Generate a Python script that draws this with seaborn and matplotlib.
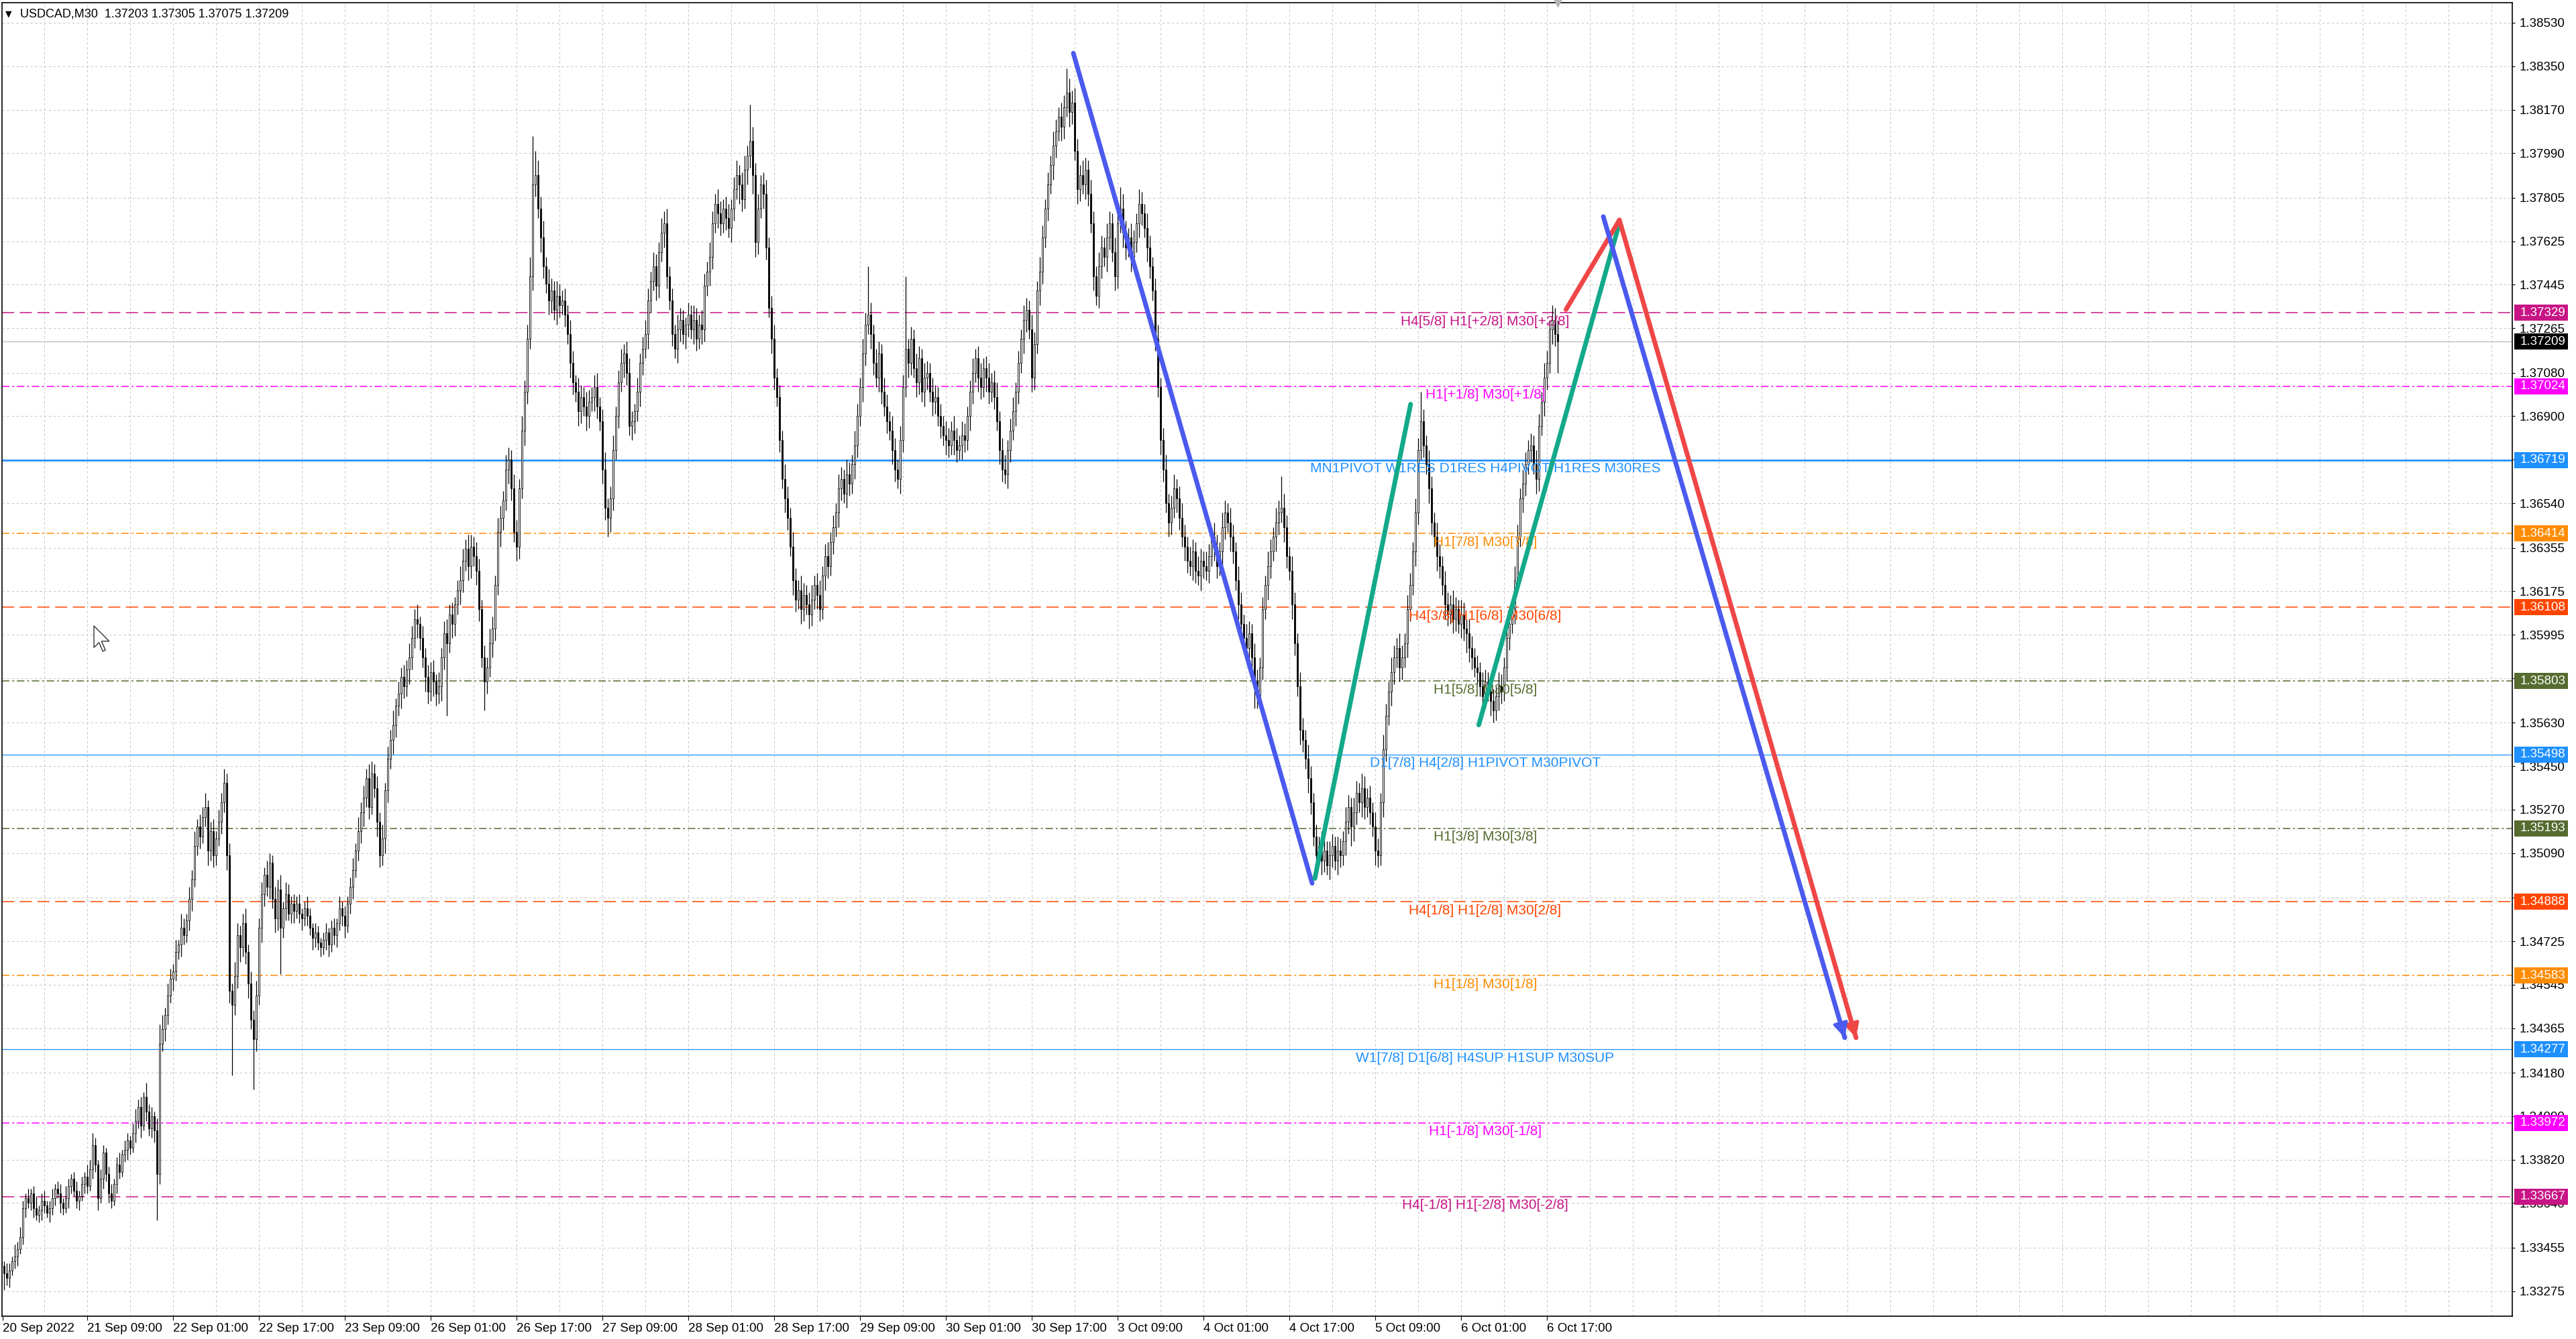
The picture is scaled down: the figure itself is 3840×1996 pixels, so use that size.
import numpy as np
import pandas as pd
import matplotlib
matplotlib.use("Agg")
import matplotlib.pyplot as plt
import seaborn as sns
from matplotlib.patches import Rectangle, Polygon
from matplotlib.transforms import blended_transform_factory

sns.set_theme(style="white")
plt.rcParams['font.family'] = ['Liberation Sans', 'DejaVu Sans']
plt.rcParams['lines.scale_dashes'] = False

# ---------------- data ----------------
symbol_title = "USDCAD,M30  1.37203 1.37305 1.37075 1.37209"
first_open_pips = 340
# M30 closes, in pips above 1.3000 (one value per bar)
close_pips = [
    338, 335, 333, 336, 340, 342, 345, 350, 362, 366,
    364, 368, 362, 359, 361, 365, 363, 360, 362, 366,
    370, 368, 364, 362, 366, 371, 374, 369, 365, 367,
    372, 375, 371, 378, 388, 380, 366, 374, 385, 376,
    368, 365, 372, 380, 377, 384, 386, 390, 387, 393,
    398, 404, 396, 408, 402, 395, 400, 394, 376, 430,
    436, 442, 450, 457, 460, 468, 471, 478, 475, 481,
    490, 498, 512, 520, 516, 524, 528, 510, 518, 508,
    515, 522, 530, 538, 508, 452, 446, 458, 475, 470,
    480, 468, 455, 440, 432, 450, 478, 492, 500, 495,
    505, 490, 482, 494, 478, 486, 492, 484, 488, 485,
    488, 484, 482, 486, 483, 478, 474, 476, 472, 470,
    473, 476, 471, 478, 475, 480, 486, 483, 479, 488,
    495, 502, 510, 518, 526, 532, 540, 528, 542, 536,
    522, 508, 515, 535, 548, 556, 562, 570, 575, 582,
    578, 585, 590, 598, 606, 604, 598, 590, 582, 576,
    584, 580, 575, 578, 590, 600, 596, 608, 604, 612,
    618, 622, 630, 635, 628, 636, 632, 626, 610, 590,
    580, 586, 596, 602, 620, 642, 648, 655, 668, 672,
    660, 642, 636, 660, 684, 700, 722, 748, 786, 790,
    776, 764, 752, 745, 738, 742, 734, 740, 736, 738,
    732, 724, 712, 704, 700, 692, 698, 694, 690, 696,
    698, 702, 694, 688, 668, 652, 648, 656, 676, 690,
    704, 712, 716, 708, 686, 688, 692, 700, 712, 718,
    724, 738, 746, 752, 744, 758, 766, 770, 748, 738,
    724, 718, 726, 730, 724, 728, 732, 726, 730, 722,
    728, 726, 744, 750, 756, 770, 778, 774, 770, 776,
    772, 768, 776, 784, 790, 786, 780, 792, 798, 804,
    790, 762, 776, 786, 782, 760, 735, 722, 706, 698,
    680, 664, 656, 648, 636, 622, 614, 618, 610, 616,
    612, 608, 614, 620, 616, 610, 624, 632, 628, 638,
    644, 650, 660, 664, 658, 666, 662, 670, 678, 690,
    702, 716, 728, 732, 724, 712, 706, 716, 700, 694,
    688, 684, 676, 668, 664, 680, 702, 718, 712, 722,
    710, 704, 714, 700, 706, 708, 700, 696, 698, 690,
    686, 682, 680, 678, 684, 680, 676, 678, 682, 680,
    690, 700, 708, 714, 706, 702, 710, 706, 700, 704,
    698, 688, 676, 668, 666, 676, 684, 692, 700, 712,
    722, 730, 734, 726, 706, 720, 742, 750, 764, 776,
    786, 794, 802, 808, 814, 810, 818, 824, 816, 820,
    800, 784, 790, 786, 792, 782, 770, 748, 740, 752,
    760, 756, 764, 770, 758, 748, 770, 776, 766, 760,
    764, 756, 762, 770, 778, 774, 768, 760, 752, 742,
    722, 702, 680, 668, 654, 646, 652, 660, 656, 648,
    640, 636, 630, 628, 634, 626, 624, 630, 628, 626,
    632, 640, 636, 628, 634, 644, 650, 646, 640, 634,
    622, 612, 604, 598, 594, 600, 590, 580, 574, 586,
    610, 620, 628, 634, 640, 646, 650, 652, 644, 632,
    626, 612, 596, 578, 560, 556, 548, 540, 530, 516,
    508, 512, 506, 510, 504, 508, 512, 506, 510, 508,
    514, 522, 528, 520, 526, 534, 530, 536, 528, 532,
    526, 520, 510, 508, 530, 552, 566, 576, 584, 590,
    594, 586, 590, 596, 610, 620, 634, 650, 676, 688,
    678, 670, 660, 646, 640, 632, 628, 620, 612, 608,
    612, 606, 610, 604, 608, 602, 600, 594, 590, 586,
    584, 578, 574, 580, 576, 572, 568, 574, 578, 576,
    586, 598, 604, 610, 622, 640, 656, 662, 670, 676,
    678, 670, 664, 686, 696, 706, 712, 726, 730, 724, 721,
]
# upper / lower shadows, in pips
up_wick = [
    3, 2, 4, 3, 2, 5, 3, 4, 3, 2,   4, 2, 3, 5, 2, 3, 4, 2, 3, 4,
    2, 3, 4, 2, 5, 3, 2, 3, 4, 2,   3, 2, 5, 4, 5, 3, 2, 4, 3, 2,
    3, 4, 2, 3, 5, 2, 4, 3, 2, 4,   5, 3, 4, 2, 6, 3, 4, 2, 5, 8,
    6, 3, 5, 4, 3, 5, 2, 6, 4, 3,   5, 4, 6, 3, 5, 4, 6, 3, 4, 5,
    3, 5, 4, 6, 4, 5, 3, 6, 5, 4,   4, 6, 3, 5, 4, 6, 4, 5, 3, 6,
    4, 3, 5, 4, 6, 3, 5, 4, 3, 4,   3, 4, 2, 3, 5, 3, 2, 4, 3, 2,
    3, 4, 2, 3, 4, 2, 5, 3, 4, 3,   4, 5, 3, 6, 4, 5, 4, 6, 5, 4,
    5, 4, 6, 3, 5, 4, 6, 3, 5, 4,   5, 4, 6, 5, 4, 6, 3, 5, 4, 5,
    4, 5, 3, 6, 4, 5, 6, 4, 5, 3,   4, 6, 5, 4, 6, 5, 4, 6, 5, 4,
    5, 4, 6, 5, 4, 6, 5, 4, 6, 5,   4, 6, 5, 4, 6, 5, 6, 8, 20, 10,
    6, 5, 7, 4, 6, 5, 4, 6, 5, 4,   5, 4, 6, 5, 3, 6, 5, 4, 6, 5,
    4, 5, 6, 4, 5, 7, 4, 5, 6, 4,   5, 6, 4, 5, 6, 4, 3, 6, 4, 5,
    6, 5, 4, 6, 5, 4, 6, 5, 6, 4,   5, 4, 6, 5, 4, 3, 5, 4, 6, 5,
    4, 6, 5, 4, 6, 5, 4, 6, 5, 4,   5, 6, 4, 5, 6, 4, 5, 6, 4, 15,
    6, 5, 6, 4, 5, 6, 4, 5, 6, 4,   5, 4, 6, 5, 4, 6, 5, 4, 6, 5,
    4, 5, 6, 4, 5, 6, 4, 5, 6, 4,   5, 4, 6, 5, 4, 6, 5, 4, 6, 5,
    4, 6, 5, 20, 5, 4, 6, 5, 4, 6,  5, 4, 6, 5, 4, 6, 5, 30, 4, 5,
    4, 6, 5, 4, 6, 5, 4, 6, 5, 4,   5, 4, 6, 5, 4, 6, 5, 4, 6, 5,
    4, 5, 6, 4, 5, 6, 4, 5, 6, 4,   5, 6, 4, 5, 6, 4, 5, 6, 4, 5,
    4, 6, 5, 4, 6, 5, 4, 6, 5, 4,   5, 4, 6, 5, 4, 6, 5, 10, 6, 5,
    6, 5, 4, 6, 5, 4, 6, 5, 4, 6,   5, 4, 6, 5, 4, 6, 5, 9, 6, 5,
    4, 6, 5, 4, 6, 5, 4, 6, 5, 4,   5, 6, 4, 5, 6, 4, 5, 6, 4, 5,
    6, 5, 4, 6, 5, 4, 6, 5, 4, 6,   5, 4, 6, 5, 4, 6, 5, 4, 6, 5,
    4, 6, 5, 4, 6, 5, 4, 6, 5, 4,   5, 4, 6, 5, 4, 6, 5, 13, 6, 5,
    4, 6, 5, 4, 6, 5, 4, 6, 5, 4,   5, 4, 6, 5, 4, 6, 5, 4, 6, 5,
    4, 6, 5, 4, 6, 5, 4, 6, 5, 4,   5, 4, 6, 5, 4, 6, 5, 4, 6, 5,
    4, 6, 5, 4, 6, 5, 4, 6, 5, 12,  5, 4, 6, 5, 4, 6, 5, 4, 6, 5,
    4, 6, 5, 4, 6, 5, 4, 6, 5, 4,   5, 4, 6, 5, 4, 6, 5, 4, 6, 5,
    4, 6, 5, 4, 6, 5, 4, 6, 5, 4,   5, 4, 6, 5, 4, 6, 5, 4, 6, 5, 6,
]
down_wick = [
    4, 7, 3, 4, 2, 3, 4, 2, 3, 4,   2, 3, 4, 2, 3, 4, 3, 2, 4, 3,
    3, 2, 4, 3, 2, 4, 3, 2, 3, 4,   2, 4, 3, 2, 4, 3, 5, 2, 4, 3,
    4, 3, 2, 4, 3, 2, 3, 4, 3, 2,   4, 3, 5, 2, 4, 3, 4, 5, 19, 4,
    3, 5, 4, 3, 5, 4, 3, 5, 4, 3,   4, 5, 3, 4, 5, 3, 4, 6, 4, 5,
    4, 3, 5, 4, 6, 5, 29, 4, 5, 6,  4, 5, 6, 4, 21, 5, 4, 6, 5, 4,
    5, 4, 6, 5, 19, 4, 5, 3, 4, 5,  3, 4, 5, 3, 4, 3, 5, 4, 3, 4,
    3, 4, 5, 3, 4, 5, 3, 4, 5, 3,   4, 5, 3, 4, 5, 6, 4, 5, 3, 4,
    6, 5, 4, 6, 5, 4, 6, 5, 4, 6,   5, 4, 6, 5, 4, 6, 5, 4, 6, 5,
    4, 6, 5, 4, 6, 5, 30, 4, 6, 5,  4, 6, 5, 4, 6, 5, 4, 6, 5, 4,
    12, 5, 4, 6, 5, 4, 6, 5, 4, 6,  5, 4, 6, 5, 4, 6, 5, 4, 6, 5,
    4, 6, 5, 4, 6, 5, 4, 6, 5, 4,   5, 4, 6, 5, 4, 6, 5, 4, 6, 5,
    4, 6, 5, 4, 6, 5, 8, 6, 5, 4,   5, 4, 6, 5, 4, 6, 5, 4, 6, 5,
    4, 6, 5, 4, 6, 5, 4, 6, 5, 4,   5, 4, 6, 5, 4, 6, 5, 4, 6, 5,
    4, 6, 5, 4, 6, 5, 4, 6, 5, 4,   5, 4, 6, 5, 4, 8, 5, 4, 6, 5,
    8, 6, 5, 4, 6, 5, 4, 6, 5, 4,   5, 4, 6, 5, 4, 6, 5, 4, 6, 5,
    4, 6, 5, 4, 6, 5, 4, 6, 5, 4,   5, 4, 6, 5, 4, 6, 5, 4, 6, 5,
    4, 6, 5, 4, 6, 5, 4, 6, 5, 4,   5, 4, 6, 5, 4, 6, 5, 4, 6, 5,
    4, 6, 5, 4, 6, 5, 4, 6, 5, 4,   5, 4, 6, 5, 4, 6, 5, 4, 6, 5,
    4, 6, 5, 4, 6, 5, 4, 6, 5, 4,   5, 4, 6, 5, 4, 6, 5, 4, 6, 5,
    4, 6, 5, 4, 6, 5, 4, 6, 5, 4,   5, 4, 6, 5, 4, 6, 5, 4, 6, 5,
    4, 6, 5, 4, 6, 5, 4, 6, 4, 5,   5, 4, 6, 5, 4, 6, 5, 4, 6, 5,
    4, 6, 5, 4, 6, 5, 4, 6, 5, 4,   5, 4, 6, 5, 4, 6, 5, 4, 6, 5,
    4, 6, 5, 4, 6, 5, 4, 6, 5, 4,   5, 4, 6, 5, 4, 6, 5, 4, 6, 5,
    4, 6, 5, 4, 6, 5, 4, 11, 5, 4,  5, 4, 6, 5, 4, 6, 5, 4, 6, 5,
    4, 6, 5, 4, 6, 5, 4, 6, 5, 4,   5, 4, 6, 5, 4, 6, 5, 4, 6, 5,
    4, 6, 5, 8, 6, 5, 4, 6, 5, 4,   5, 4, 6, 5, 4, 6, 5, 4, 6, 5,
    4, 6, 5, 4, 6, 5, 4, 6, 5, 4,   5, 4, 6, 5, 4, 6, 5, 4, 6, 5,
    4, 6, 5, 4, 6, 5, 8, 6, 5, 4,   5, 4, 6, 5, 4, 6, 5, 4, 6, 5,
    4, 6, 5, 4, 6, 5, 4, 6, 5, 4,   5, 4, 6, 5, 4, 6, 5, 4, 6, 5, 13,
]

# Murrey / pivot levels
level_prices = [1.37329, 1.37024, 1.36719, 1.36414, 1.36108, 1.35803, 1.35498,
                1.35193, 1.34888, 1.34583, 1.34277, 1.33972, 1.33667]
level_labels = ["H4[5/8] H1[+2/8] M30[+2/8]", "H1[+1/8] M30[+1/8]",
                "MN1PIVOT W1RES D1RES H4PIVOT H1RES M30RES", "H1[7/8] M30[7/8]",
                "H4[3/8] H1[6/8] M30[6/8]", "H1[5/8] M30[5/8]",
                "D1[7/8] H4[2/8] H1PIVOT M30PIVOT", "H1[3/8] M30[3/8]",
                "H4[1/8] H1[2/8] M30[2/8]", "H1[1/8] M30[1/8]",
                "W1[7/8] D1[6/8] H4SUP H1SUP M30SUP", "H1[-1/8] M30[-1/8]",
                "H4[-1/8] H1[-2/8] M30[-2/8]"]
level_colors = ["#C71585", "#FF00FF", "#1E90FF", "#FF8C00", "#FF4500", "#556B2F", "#1E90FF",
                "#556B2F", "#FF4500", "#FF8C00", "#1E90FF", "#FF00FF", "#C71585"]
level_styles = ["dash", "dashdot", "solid", "dashdot", "dash", "dashdot", "solid",
                "dashdot", "dash", "dashdot", "solid", "dashdot", "dash"]
level_widths = [1.1, 1.1, 1.9, 1.1, 1.1, 1.1, 0.9, 1.1, 1.1, 1.1, 0.9, 1.1, 1.1]
current_price = 1.37209

y_ticks = [1.38530, 1.38350, 1.38170, 1.37990, 1.37805, 1.37625, 1.37445, 1.37265,
           1.37080, 1.36900, 1.36720, 1.36540, 1.36355, 1.36175, 1.35995, 1.35815,
           1.35630, 1.35450, 1.35270, 1.35090, 1.34905, 1.34725, 1.34545, 1.34365,
           1.34180, 1.34000, 1.33820, 1.33640, 1.33455, 1.33275]
x_tick_bars = [0.5, 32, 64, 96, 128, 160, 192, 224, 256, 288, 320, 352, 384, 416,
               448, 480, 512, 544, 576]
x_tick_labels = ["20 Sep 2022", "21 Sep 09:00", "22 Sep 01:00", "22 Sep 17:00",
                 "23 Sep 09:00", "26 Sep 01:00", "26 Sep 17:00", "27 Sep 09:00",
                 "28 Sep 01:00", "28 Sep 17:00", "29 Sep 09:00", "30 Sep 01:00",
                 "30 Sep 17:00", "3 Oct 09:00", "4 Oct 01:00", "4 Oct 17:00",
                 "5 Oct 09:00", "6 Oct 01:00", "6 Oct 17:00"]

# hand-drawn wave lines: (bar, price) end points
wave_segments = [
    ("blue",  [399.5, 488.5], [1.38404, 1.34965]),
    ("green", [489.5, 525.2], [1.34985, 1.36950]),
    ("green", [550.6, 603.0], [1.35621, 1.37700]),
    ("red",   [583.1, 603.0], [1.37342, 1.37713]),
    ("red",   [603.0, 691.2], [1.37713, 1.34325]),
    ("blue",  [597.0, 687.0], [1.37727, 1.34325]),
]
wave_colors = {"blue": "#4B5AEE", "green": "#13A98B", "red": "#EF4646"}

# ---------------- figure ----------------
W, H = 3840, 1996
fig = plt.figure(figsize=(W / 100, H / 100), dpi=100, facecolor="white")
ax_l, ax_r, ax_t, ax_b = 3, 3745, 4, 1962
ax = fig.add_axes([ax_l / W, 1 - ax_b / H, (ax_r - ax_l) / W, (ax_b - ax_t) / H])
ax.set_facecolor("white")

y_top = 1.38530 + (34 - ax_t) / 35980
y_bot = 1.38530 - (ax_b - 34) / 35980
ax.set_ylim(y_bot, y_top)
ax.set_xlim((ax_l - 2) / 4, (ax_r - 2) / 4)

# grid
for b in range(16, 940, 16):
    ax.axvline(b, color="#c4c4c4", lw=0.7, ls=(0, (2.5, 2.5)), zorder=0)
for p in y_ticks:
    ax.axhline(p, color="#c4c4c4", lw=0.7, ls=(0, (2.5, 2.5)), zorder=0)

# candles
close = 1.3 + np.array(close_pips) / 10000.0
open_ = np.r_[1.3 + first_open_pips / 10000.0, close[:-1]]
high = np.maximum(open_, close) + np.array(up_wick) / 10000.0
low = np.minimum(open_, close) - np.array(down_wick) / 10000.0
bars = np.arange(len(close))
df = pd.DataFrame({"bar": bars, "open": open_, "high": high, "low": low, "close": close})

ax.vlines(df["bar"], df["low"], df["high"], color="black", lw=0.9, zorder=3)
bull = df["close"] >= df["open"]
ax.bar(df["bar"][bull], (df["close"] - df["open"])[bull], bottom=df["open"][bull],
       width=0.62, facecolor="white", edgecolor="black", linewidth=0.6, zorder=4)
ax.bar(df["bar"][~bull], (df["open"] - df["close"])[~bull], bottom=df["close"][~bull],
       width=0.62, facecolor="black", edgecolor="black", linewidth=0.6, zorder=4)

# level lines
dash_map = {"dash": (0, (13, 6)), "dashdot": (0, (8, 3, 2, 3)), "solid": "-"}
for p, lab, c, st, lw in zip(level_prices, level_labels, level_colors, level_styles, level_widths):
    ax.axhline(p, color=c, lw=lw, ls=dash_map[st], zorder=2)
    ax.annotate(lab, (553, p), xytext=(0, -13), textcoords="offset pixels",
                ha="center", va="center", fontsize=15, color=c, zorder=6)
ax.axhline(current_price, color="#c0c0c0", lw=1.0, zorder=1)

# wave lines
for name, xs, ys in wave_segments:
    seg = pd.DataFrame({"bar": xs, "price": ys})
    sns.lineplot(data=seg, x="bar", y="price", ax=ax, color=wave_colors[name],
                 lw=5.0, estimator=None, sort=False, zorder=7,
                 solid_capstyle="round", legend=False)
for name, xs, ys in wave_segments[4:]:
    ax.annotate("", xy=(xs[1], ys[1]), xytext=(xs[1] - (xs[1] - xs[0]) * 0.06,
                                                  ys[1] - (ys[1] - ys[0]) * 0.06),
                arrowprops=dict(arrowstyle="-|>,head_length=0.6,head_width=0.3",
                                color=wave_colors[name], lw=3, shrinkA=0, shrinkB=0,
                                mutation_scale=22), zorder=7)

# axes cosmetics
for s in ax.spines.values():
    s.set_color("black")
    s.set_linewidth(1.2)
ax.yaxis.tick_right()
ax.set_yticks(y_ticks)
ax.set_yticklabels([f"{v:.5f}" for v in y_ticks])
ax.tick_params(axis="y", which="both", right=True, left=False, length=3, width=0.8,
               pad=5, labelsize=13.5, colors="black")
ax.set_xticks(x_tick_bars)
ax.set_xticklabels(x_tick_labels)
ax.tick_params(axis="x", bottom=True, length=4, width=0.8, pad=3, labelsize=13.5,
               colors="black")
for t in ax.get_xticklabels():
    t.set_ha("left")
ax.set_xlabel("")
ax.set_ylabel("")

# right-side price boxes
blend = blended_transform_factory(fig.transFigure, ax.transData)
box_h = 24 / 35980
boxes = list(zip(level_prices, level_colors)) + [(current_price, "#000000")]
for p, c in boxes:
    fig.add_artist(Rectangle((3748 / W, p - box_h / 2), 80 / W, box_h, transform=blend,
                             facecolor=c, edgecolor="none", zorder=10, clip_on=False))
    fig.text(3757 / W, p, f"{p:.5f}", transform=blend, ha="left", va="center",
             color="white", fontsize=13.5, zorder=11)

# title and shift marker
fig.text(8 / W, 1 - 21 / H, "\u25BC", fontsize=9, color="black", va="center",
         family="DejaVu Sans")
fig.text(30 / W, 1 - 21 / H, symbol_title, fontsize=13, color="black", va="center")
ax.plot([580], [y_top], marker="v", ms=9, color="#b4b4b4", clip_on=False, zorder=8,
        transform=ax.transData)

# mouse pointer left on the screenshot
cursor_shape = np.array([(0, 0), (0, 17), (4, 13), (7, 20), (9, 19), (6, 12), (12, 12)]) * 1.9
cursor_px = np.column_stack([140 + cursor_shape[:, 0], H - (933 + cursor_shape[:, 1])])
fig.add_artist(Polygon(cursor_px, closed=True, transform=None, facecolor="white",
                       edgecolor="#333333", linewidth=1.0, zorder=12))

fig.savefig("out.png", dpi=100, facecolor="white")
